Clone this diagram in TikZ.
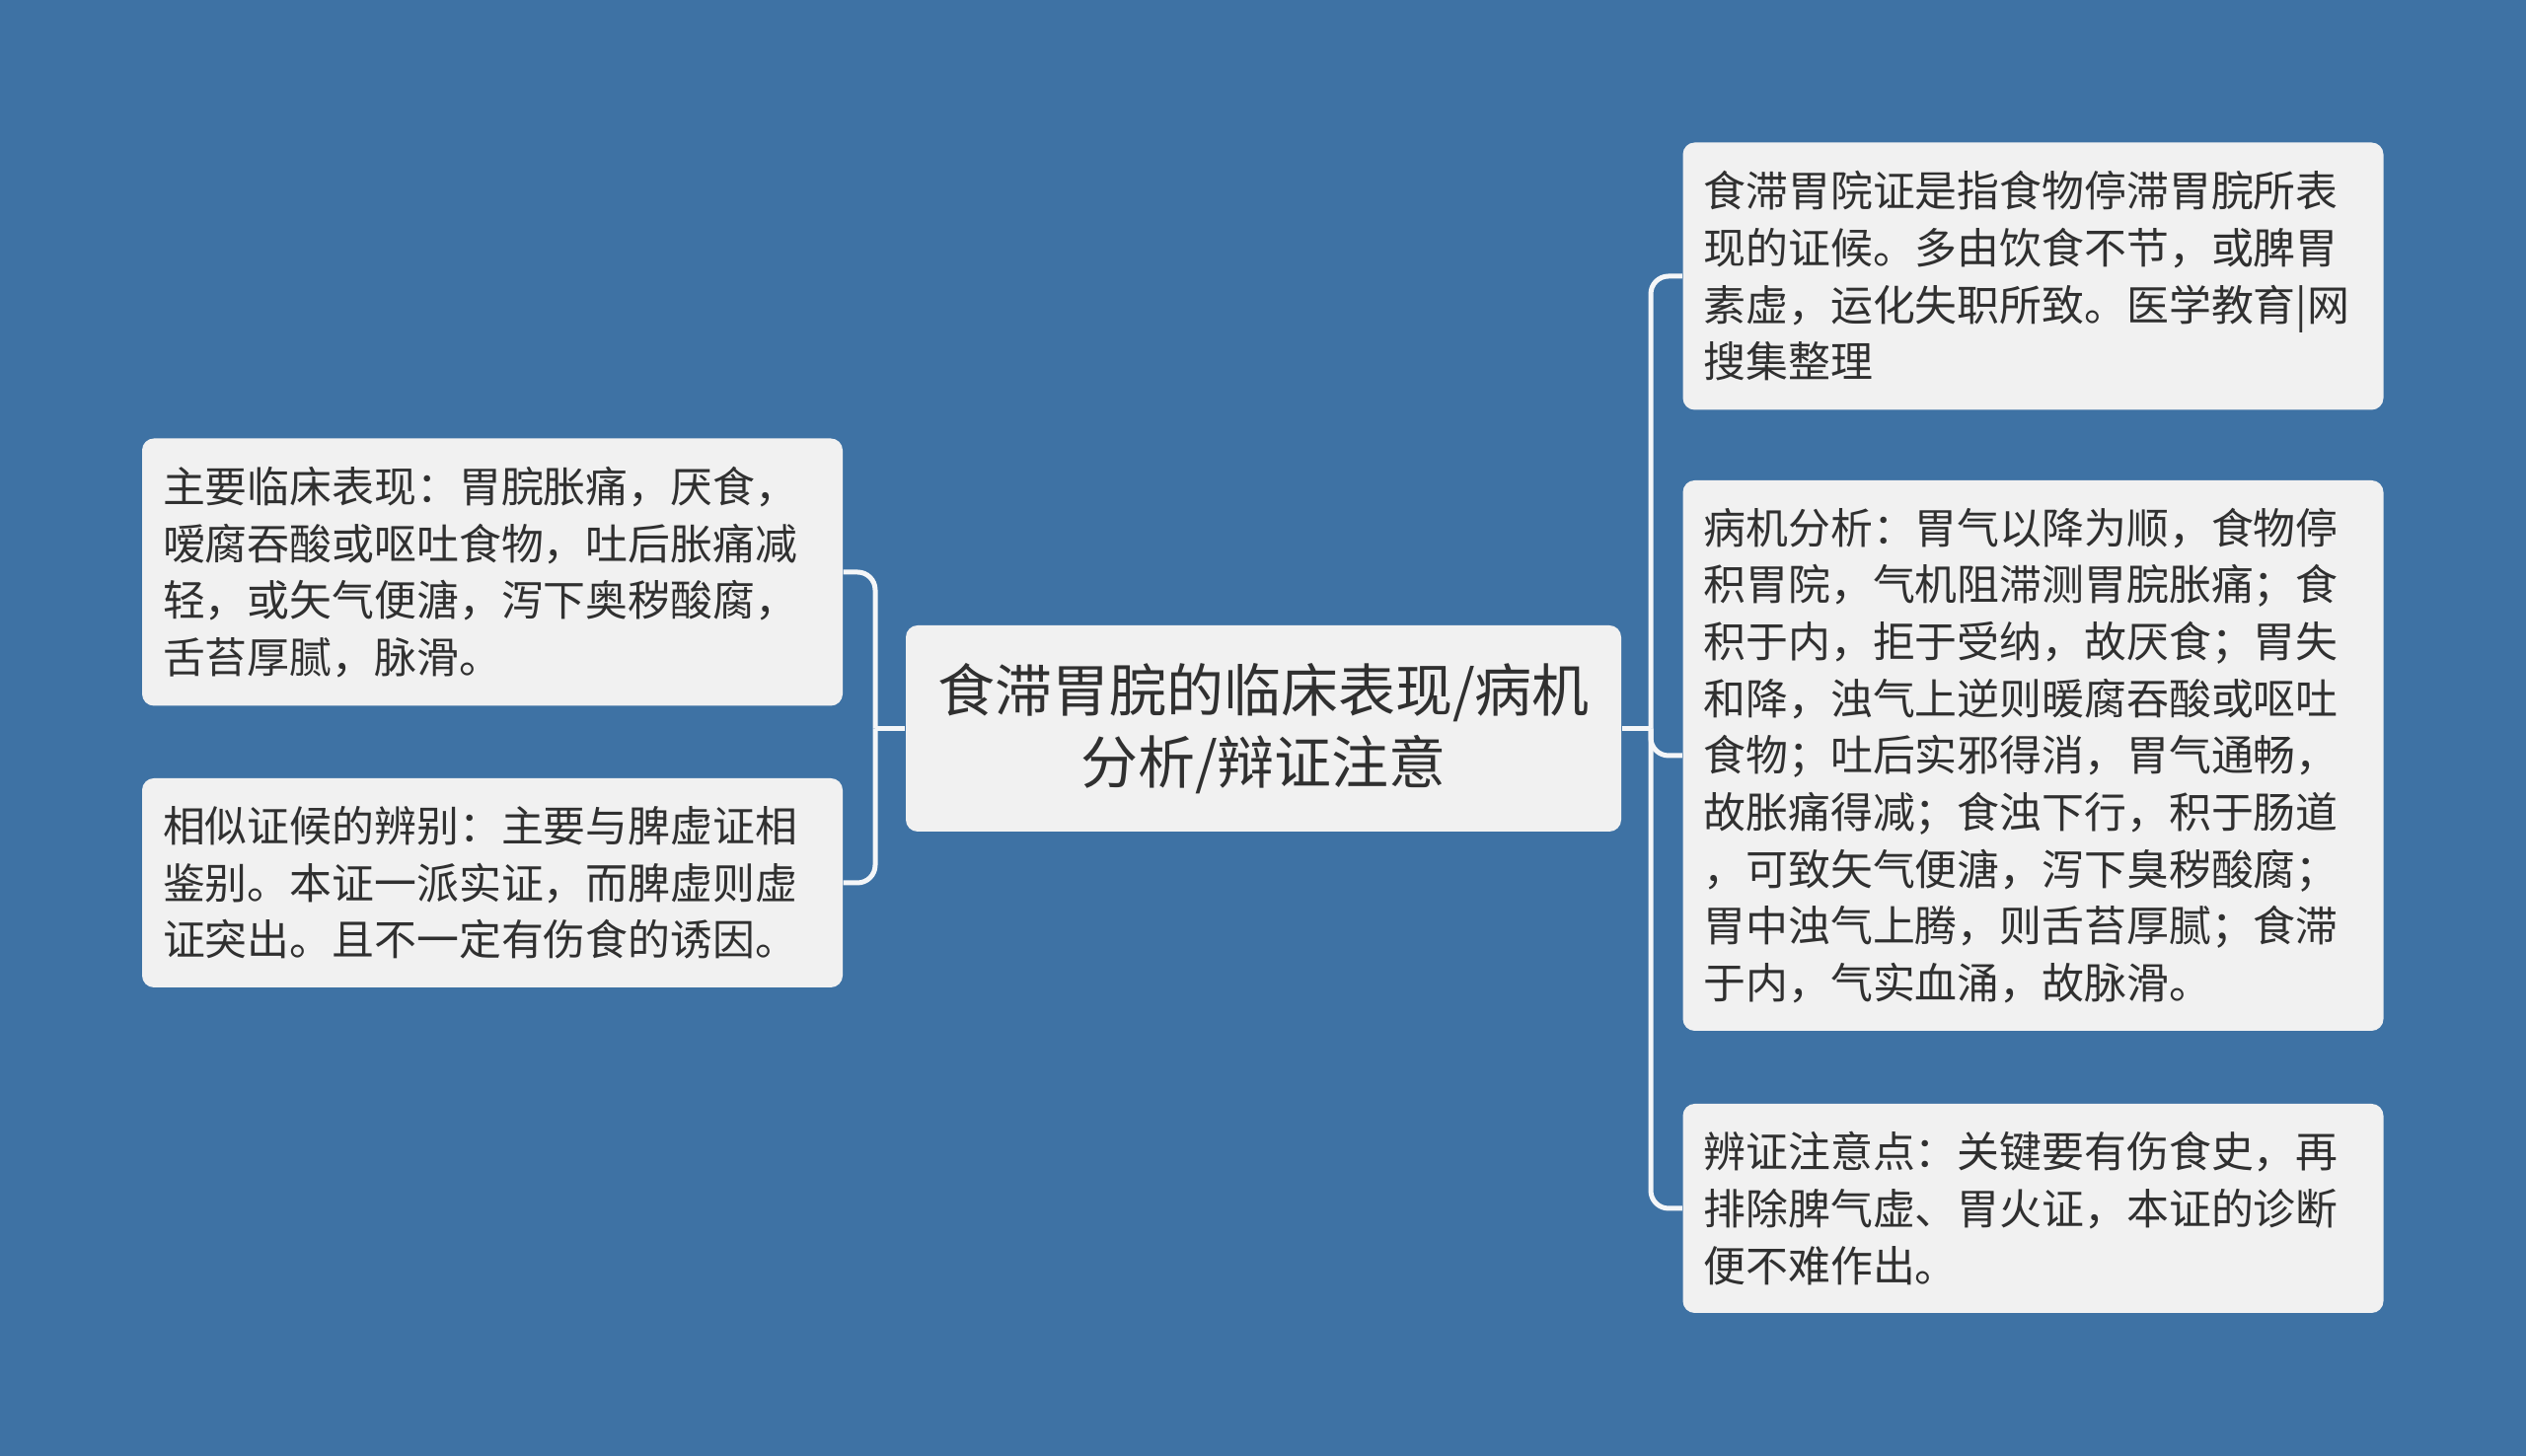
\documentclass[tikz,border=0pt]{standalone}
\usepackage{fontspec}
\setmainfont{Noto Sans CJK SC}
\usepackage{tikz}
\definecolor{bgblue}{HTML}{3E72A4}
\definecolor{boxgray}{HTML}{F1F1F1}
\definecolor{inkgray}{HTML}{303030}
\definecolor{linkwhite}{HTML}{F4F6F8}
\tikzset{
  box/.style={fill=boxgray, rounded corners=0.12cm, text=inkgray, align=left,
    text width=6.68cm, inner xsep=0.21cm, inner ysep=0pt,
    font=\fontsize{12.2pt}{16.4pt}\selectfont},
  titlebox/.style={fill=boxgray, rounded corners=0.12cm, text=inkgray, align=center,
    minimum width=7.25cm, minimum height=2.09cm, inner xsep=0pt,
    font=\fontsize{16.5pt}{20.9pt}\selectfont},
  link/.style={draw=linkwhite, line width=0.05cm, rounded corners=0.18cm}
}

\begin{document}
\begin{tikzpicture}
\fill[bgblue] (0, 0) rectangle (25.6, 14.76);
\useasboundingbox (0, 0) rectangle (25.6, 14.76);

\node[titlebox] (C) at (12.805, 7.375) {食滞胃脘的临床表现/病机\\分析/辩证注意};

\node[box, minimum height=2.71cm] (L1) at (4.99, 8.96) {主要临床表现：胃脘胀痛，厌食，\\嗳腐吞酸或呕吐食物，吐后胀痛减\\轻，或矢气便溏，泻下奥秽酸腐，\\舌苔厚腻，脉滑。};
\node[box, minimum height=2.12cm] (L2) at (4.99, 5.81) {相似证候的辨别：主要与脾虚证相\\鉴别。本证一派实证，而脾虚则虚\\证突出。且不一定有伤食的诱因。};

\node[box, minimum height=2.71cm] (R1) at (20.605, 11.96) {食滞胃院证是指食物停滞胃脘所表\\现的证候。多由饮食不节，或脾胃\\素虚，运化失职所致。医学教育|网\\搜集整理};
\node[box, minimum height=5.58cm] (R2) at (20.605, 7.10) {病机分析：胃气以降为顺，食物停\\积胃院，气机阻滞测胃脘胀痛；食\\积于内，拒于受纳，故厌食；胃失\\和降，浊气上逆则暖腐吞酸或呕吐\\食物；吐后实邪得消，胃气通畅，\\故胀痛得减；食浊下行，积于肠道\\，可致矢气便溏，泻下臭秽酸腐；\\胃中浊气上腾，则舌苔厚腻；食滞\\于内，气实血涌，故脉滑。};
\node[box, minimum height=2.12cm] (R3) at (20.605, 2.51) {辨证注意点：关键要有伤食史，再\\排除脾气虚、胃火证，本证的诊断\\便不难作出。};

\coordinate (lj) at (8.87, 7.375);
\coordinate (rj) at (16.73, 7.375);

\draw[link] (C.west) -- (lj);
\draw[link] (lj) |- (L1.east);
\draw[link] (lj) |- (L2.east);

\draw[link] (C.east) -- (rj);
\draw[link] (rj) |- (R1.west);
\draw[link] (rj) |- (R2.west);
\draw[link] (rj) |- (R3.west);
\end{tikzpicture}
\end{document}
